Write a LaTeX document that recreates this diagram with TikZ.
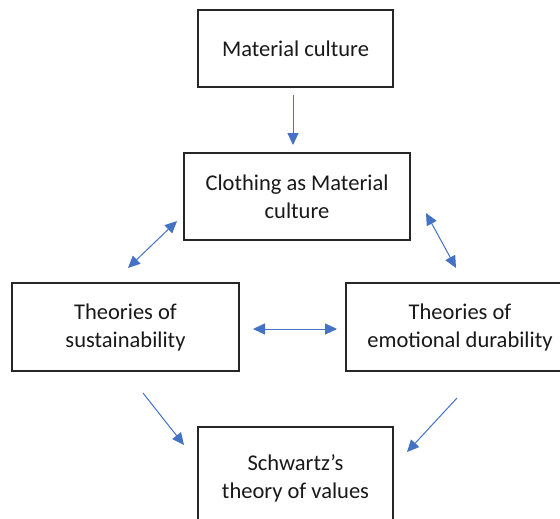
\documentclass[tikz,border=0pt]{standalone}
\usepackage{fontspec}
\setmainfont{Carlito}
\usetikzlibrary{arrows.meta}
\definecolor{arrowblue}{HTML}{4472C4}
\definecolor{boxline}{HTML}{262626}
\tikzset{
  box/.style={draw=boxline, line width=1.4pt, inner sep=0pt, align=center,
    font=\fontsize{22.5}{28}\selectfont, text=black!90},
  conn/.style={draw=arrowblue, line width=1pt, -{Triangle[length=12pt,width=11pt]}},
  dconn/.style={draw=arrowblue, line width=1pt, {Triangle[length=12pt,width=11pt]}-{Triangle[length=12pt,width=11pt]}}
}
\begin{document}
\begin{tikzpicture}[x=1pt,y=-1pt]
\useasboundingbox (0,0) rectangle (560,519);
\clip (0,0) rectangle (560,519);
\fill[white] (0,0) rectangle (560,519);
\node[box, minimum width=195pt, minimum height=77pt] (mat) at (295.5,48.5) {Material culture};
\node[box, minimum width=226pt, minimum height=87pt] (clo) at (297,196.5) {Clothing as Material\\culture};
\node[box, minimum width=227pt, minimum height=88pt] (sus) at (125.5,327) {Theories of\\sustainability};
\node[box, minimum width=228pt, minimum height=88pt] (emo) at (460,327) {Theories of\\emotional durability};
\node[box, minimum width=195pt, minimum height=102pt] (sch) at (295.5,478) {Schwartz’s\\theory of values};
\coordinate (a1) at (293,95);   \coordinate (a2) at (293,145);
\coordinate (b1) at (128,268);  \coordinate (b2) at (177,221);
\coordinate (c1) at (426,213);  \coordinate (c2) at (456,268);
\coordinate (d1) at (253,329);  \coordinate (d2) at (337,329);
\coordinate (e1) at (143,393);  \coordinate (e2) at (184,445);
\coordinate (f1) at (457,398);  \coordinate (f2) at (407,452);
\draw[conn] (a1) -- (a2);
\draw[dconn] (b1) -- (b2);
\draw[dconn] (c1) -- (c2);
\draw[dconn] (d1) -- (d2);
\draw[conn] (e1) -- (e2);
\draw[conn] (f1) -- (f2);
\end{tikzpicture}
\end{document}
